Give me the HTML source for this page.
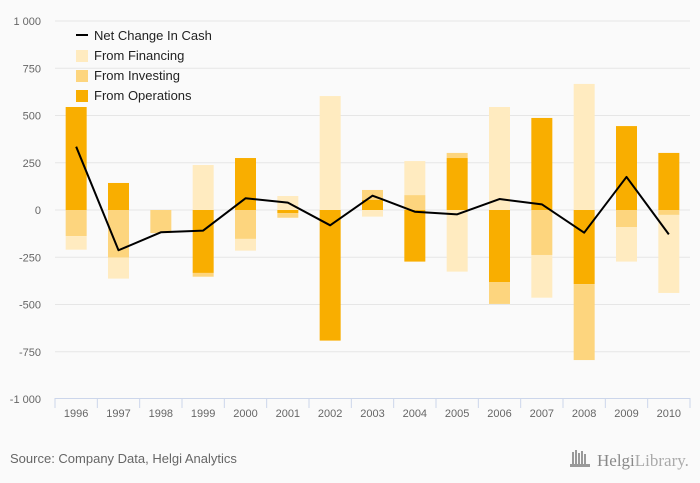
<!DOCTYPE html>
<html><head><meta charset="utf-8"><style>
html,body{margin:0;padding:0;background:#fafafa;}
svg{display:block;font-family:"Liberation Sans",sans-serif;}
</style></head><body>
<svg id="chart" width="700" height="483">
<rect width="700" height="483" fill="#fafafa"/>
<g id="grid"></g>
<g id="ylabels"></g>
<g id="bars"></g>
<g id="line"></g>
<g id="xaxis"></g>
<g>
 <g><line x1="76" y1="35" x2="88" y2="35" stroke="#000" stroke-width="2"/><text x="94" y="40" font-size="13" fill="#222">Net Change In Cash</text></g>
 <g><rect x="76" y="50" width="12" height="12" fill="#ffebc0"/><text x="94" y="60" font-size="13" fill="#222">From Financing</text></g>
 <g><rect x="76" y="70" width="12" height="12" fill="#fdd57e"/><text x="94" y="80" font-size="13" fill="#222">From Investing</text></g>
 <g><rect x="76" y="90" width="12" height="12" fill="#f9ae00"/><text x="94" y="100" font-size="13" fill="#222">From Operations</text></g>
</g>
<text x="10" y="463" font-size="13" fill="#666">Source: Company Data, Helgi Analytics</text>
<g>
 <g fill="#999"><rect x="572" y="452" width="2" height="12"/><rect x="575" y="450" width="2" height="14"/><rect x="578" y="453" width="2" height="11"/><rect x="581" y="451" width="2" height="13"/><rect x="584" y="454" width="2" height="10"/><rect x="570" y="464" width="20" height="3"/></g>
 <text x="597" y="466" font-size="17" fill="#888" font-family="Liberation Serif,serif">Helgi<tspan fill="#aaa">Library.</tspan></text>
</g>
</svg>
<script>
const categories=['1996','1997','1998','1999','2000','2001','2002','2003','2004','2005','2006','2007','2008','2009','2010'];
const operations=[545,143,0,-333,275,-16,-691,53,-273,275,-381,487,-392,444,302];
const investing=[-138,-252,-122,-20,-153,-25,0,53,79,27,-116,-238,-402,-90,-26];
const financing=[-72,-111,0,238,-62,74,603,-35,180,-326,545,-226,667,-183,-413];
const netChange=[335,-213,-118,-109,62,39,-81,76,-9,-23,58,30,-120,175,-129];
const yTicks=[1000,750,500,250,0,-250,-500,-750,-1000];
const yTickLabels=['1 000','750','500','250','0','-250','-500','-750','-1 000'];
const NS='http://www.w3.org/2000/svg';
const L=55,R=690,T=21,B=399;
const y=v=>210-v*0.189;
const cw=(R-L)/categories.length;
const x=i=>L+cw*(i+0.5);
function mk(t,a,p){const e=document.createElementNS(NS,t);for(const k in a)e.setAttribute(k,a[k]);p.appendChild(e);return e;}
const grid=document.getElementById('grid'),yl=document.getElementById('ylabels');
yTicks.forEach((v,i)=>{
 if(v!==-1000){const g=mk('line',{x1:L,x2:R,y1:y(v),y2:y(v),stroke:'#e6e6e6','stroke-width':1},grid);
 
 }
 const t=mk('text',{x:41,y:y(v)+4,'text-anchor':'end','font-size':11,fill:'#666'},yl);t.textContent=yTickLabels[i];
 
 
});
const bars=document.getElementById('bars');
const series=[[operations,'#f9ae00','operations'],[investing,'#fdd57e','investing'],[financing,'#ffebc0','financing']];
categories.forEach((c,i)=>{
 let pos=0,neg=0;
 series.forEach(([arr,col,nm])=>{
  const v=arr[i];if(!v)return;
  let a,b;
  if(v>0){a=pos;b=pos+v;pos=b;}else{a=neg;b=neg+v;neg=b;}
  const top=Math.min(y(a),y(b)),h=Math.abs(y(a)-y(b));
  const r=mk('rect',{x:x(i)-10.5,y:top,width:21,height:h,fill:col},bars);
  
  
 });
});
const lg=document.getElementById('line');
const p=mk('polyline',{points:netChange.map((v,i)=>x(i)+','+y(v)).join(' '),fill:'none',stroke:'#000','stroke-width':2,'stroke-linejoin':'round'},lg);


const xa=document.getElementById('xaxis');
const al=mk('line',{x1:L,x2:R,y1:B-0.5,y2:B-0.5,stroke:'#ccd6eb','stroke-width':1},xa);


for(let i=0;i<=categories.length;i++){
 const tk=mk('line',{x1:L+cw*i,x2:L+cw*i,y1:B-1,y2:B+9,stroke:'#ccd6eb','stroke-width':1},xa);
 
 
}
categories.forEach((c,i)=>{
 const t=mk('text',{x:x(i),y:417,'text-anchor':'middle','font-size':11,fill:'#666'},xa);t.textContent=c;
 
 
});
</script>
</body></html>
